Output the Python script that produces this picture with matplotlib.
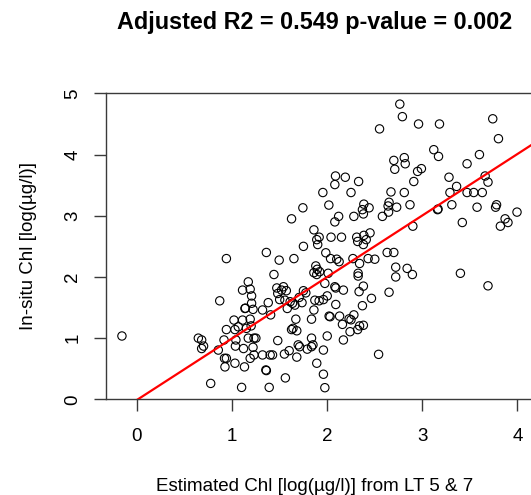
import numpy as np
import matplotlib
matplotlib.use("Agg")
import matplotlib.pyplot as plt

plt.rcParams['font.family'] = ['Liberation Sans', 'DejaVu Sans']

# values
est_chl = [
    1.625, 2.763, 2.79, 2.55, 2.70, 2.81, 2.82, 2.71, 2.087, 2.19, 2.08, 2.33,
    1.954, 2.25, 2.67, 2.81, 2.017, 1.744, 2.385, 2.37, 2.44, 2.65, 2.64, 2.73,
    2.12, 2.08, 2.28, 2.38, 2.58, 2.645, 1.86, 1.89, 1.915, 1.90, 2.04, 2.15,
    2.31, 2.32, 2.385, 2.45, 2.41, 1.75, 2.38,
    2.96, 3.18, 3.74, 3.80, 3.12, 3.17, 3.60, 3.47, 2.95, 2.99, 2.91, 3.28,
    3.36, 3.66, 3.69, 3.29, 3.47, 3.54, 3.63, 2.87, 3.16, 3.165, 3.31, 3.575,
    3.78, 3.77, 3.995, 3.87, 3.90, 3.82, 3.42, 2.90,
    2.84, 2.895, 3.40, 3.69,
    1.65, 1.985, 2.035, 2.10, 2.125, 2.27, 2.34, 2.43, 2.50, 2.63, 2.70, 2.72,
    2.72, 1.88, 1.895, 1.86, 1.89, 1.92, 2.01, 1.975, 2.08, 2.09, 2.17, 2.325,
    2.325, 2.38, 2.335, 2.465, 2.65, 2.37, 2.28, 2.25, 2.23, 2.34, 2.38, 2.32,
    2.13, 2.16, 2.24, 2.17, 2.03, 2.02, 2.09, 2.00, 1.96, 1.915, 1.87, 1.86,
    1.835, 1.735, 1.75, 1.775, 1.635, 1.67, 1.64, 1.68, 2.00, 1.835, 1.695, 1.71,
    1.85, 1.835, 1.79, 1.96, 1.68, 1.89, 1.96, 1.975, 2.54,
    -0.158, 0.94, 1.36, 1.495, 1.44, 0.87, 1.17, 1.11, 1.19, 1.205, 1.135, 1.14,
    1.205, 1.22, 1.32, 1.38, 1.405, 1.48, 1.52, 1.57, 1.50, 1.555, 1.61, 1.58,
    1.66, 1.705, 1.54, 1.47, 1.02, 1.11, 1.19, 0.94, 1.03, 1.065, 1.15, 1.20,
    1.17, 1.23, 1.25, 1.23, 1.32, 1.40, 1.425, 1.04, 1.12, 1.035, 0.645, 0.68,
    0.70, 0.68, 0.855, 0.915, 0.92, 0.94, 0.925, 1.03, 1.13, 1.19, 1.355, 1.36,
    0.775, 1.10, 1.39, 1.56, 1.48, 1.55, 1.60, 1.625, 1.22,
]
insitu_chl = [
    2.95, 4.825, 4.62, 4.42, 3.905, 3.95, 3.85, 3.76, 3.65, 3.63, 3.51, 3.56,
    3.38, 3.38, 3.39, 3.38, 3.175, 3.13, 3.19, 3.10, 3.13, 3.22, 3.16, 3.14,
    2.99, 2.90, 2.99, 3.03, 2.99, 3.06, 2.77, 2.61, 2.65, 2.53, 2.65, 2.65,
    2.65, 2.58, 2.68, 2.72, 2.61, 2.50, 2.53,
    4.50, 4.50, 4.585, 4.26, 4.08, 3.97, 4.00, 3.85, 3.725, 3.77, 3.56, 3.63,
    3.48, 3.65, 3.55, 3.38, 3.38, 3.38, 3.38, 3.18, 3.10, 3.11, 3.18, 3.14,
    3.18, 3.14, 3.06, 2.95, 2.89, 2.83, 2.89, 2.83,
    2.14, 2.04, 2.06, 1.855,
    2.30, 2.395, 2.30, 2.29, 2.25, 2.30, 2.22, 2.30, 2.29, 2.40, 2.40, 2.16,
    2.00, 2.18, 2.125, 2.07, 2.04, 2.085, 2.06, 1.895, 1.84, 1.82, 1.785, 2.06,
    2.015, 1.85, 1.76, 1.65, 1.75, 1.53, 1.38, 1.30, 1.315, 1.20, 1.21, 1.14,
    1.36, 1.225, 1.105, 0.97, 1.35, 1.36, 1.55, 1.69, 1.63, 1.61, 1.62, 1.46,
    1.31, 1.58, 1.775, 1.74, 1.57, 1.31, 1.16, 1.12, 1.035, 1.00, 0.89, 0.86,
    0.89, 0.86, 0.82, 0.805, 0.69, 0.59, 0.41, 0.19, 0.735,
    1.035, 2.30, 2.40, 2.275, 2.04, 1.61, 1.92, 1.785, 1.80, 1.69, 1.485, 1.49,
    1.57, 1.47, 1.46, 1.58, 1.38, 1.73, 1.785, 1.775, 1.63, 1.62, 1.595, 1.485,
    1.54, 1.665, 1.84, 1.82, 1.295, 1.295, 1.31, 1.14, 1.14, 1.185, 1.16, 1.20,
    1.00, 1.00, 1.00, 0.725, 0.725, 0.725, 0.725, 0.97, 0.83, 0.87, 1.00, 0.97,
    0.87, 0.83, 0.805, 0.97, 0.67, 0.67, 0.53, 0.59, 0.53, 0.67, 0.48, 0.47,
    0.26, 0.195, 0.195, 0.35, 0.96, 0.74, 0.795, 1.14, 0.85,
]

fit_intercept = -0.01
fit_slope = 1.005

title = "Adjusted R2 = 0.549 p-value = 0.002"
x_label = "Estimated Chl [log(\u00b5g/l)] from LT 5 & 7"
y_label = "In-situ Chl [log(\u00b5g/l)]"
x_ticks = [0, 1, 2, 3, 4]
y_ticks = [0, 1, 2, 3, 4, 5]

fig = plt.figure(figsize=(5.31, 4.95), dpi=100)
ax = fig.add_axes([0.199, 0.1933, 0.806, 0.618])

axis_col = "#3a3a3a"
ax.scatter(est_chl, insitu_chl, s=36, facecolors="none", edgecolors="black",
           linewidths=0.8, zorder=3)
ax.axline((0, fit_intercept), slope=fit_slope, color="red", lw=1.6, zorder=4)

ax.set_xlim(-0.329, 4.17)
ax.set_ylim(0, 5)
ax.set_xticks(x_ticks)
ax.set_yticks(y_ticks)

# box open on the right, like R's bty="c"
for side in ["top", "left", "bottom"]:
    ax.spines[side].set_color(axis_col)
    ax.spines[side].set_linewidth(1.0)
ax.spines["right"].set_visible(False)

ax.tick_params(axis="both", length=8.5, width=1.0, color=axis_col,
               labelsize=13.5)
ax.tick_params(axis="x", pad=12)
ax.tick_params(axis="y", pad=9, labelrotation=90)
for lbl in ax.get_yticklabels():
    lbl.set_va("center")

ax.set_xlabel(x_label, fontsize=13.5, va="baseline")
ax.xaxis.set_label_coords(0.489, -0.2987)
ax.set_ylabel(y_label, fontsize=13.5, va="center")
ax.yaxis.set_label_coords(-0.1814, 0.5)

fig.text(315 / 531, 1 - 29.3 / 495, title, ha="center", va="baseline",
         fontsize=16.8, fontweight="bold")

fig.savefig("out.png", dpi=100)
